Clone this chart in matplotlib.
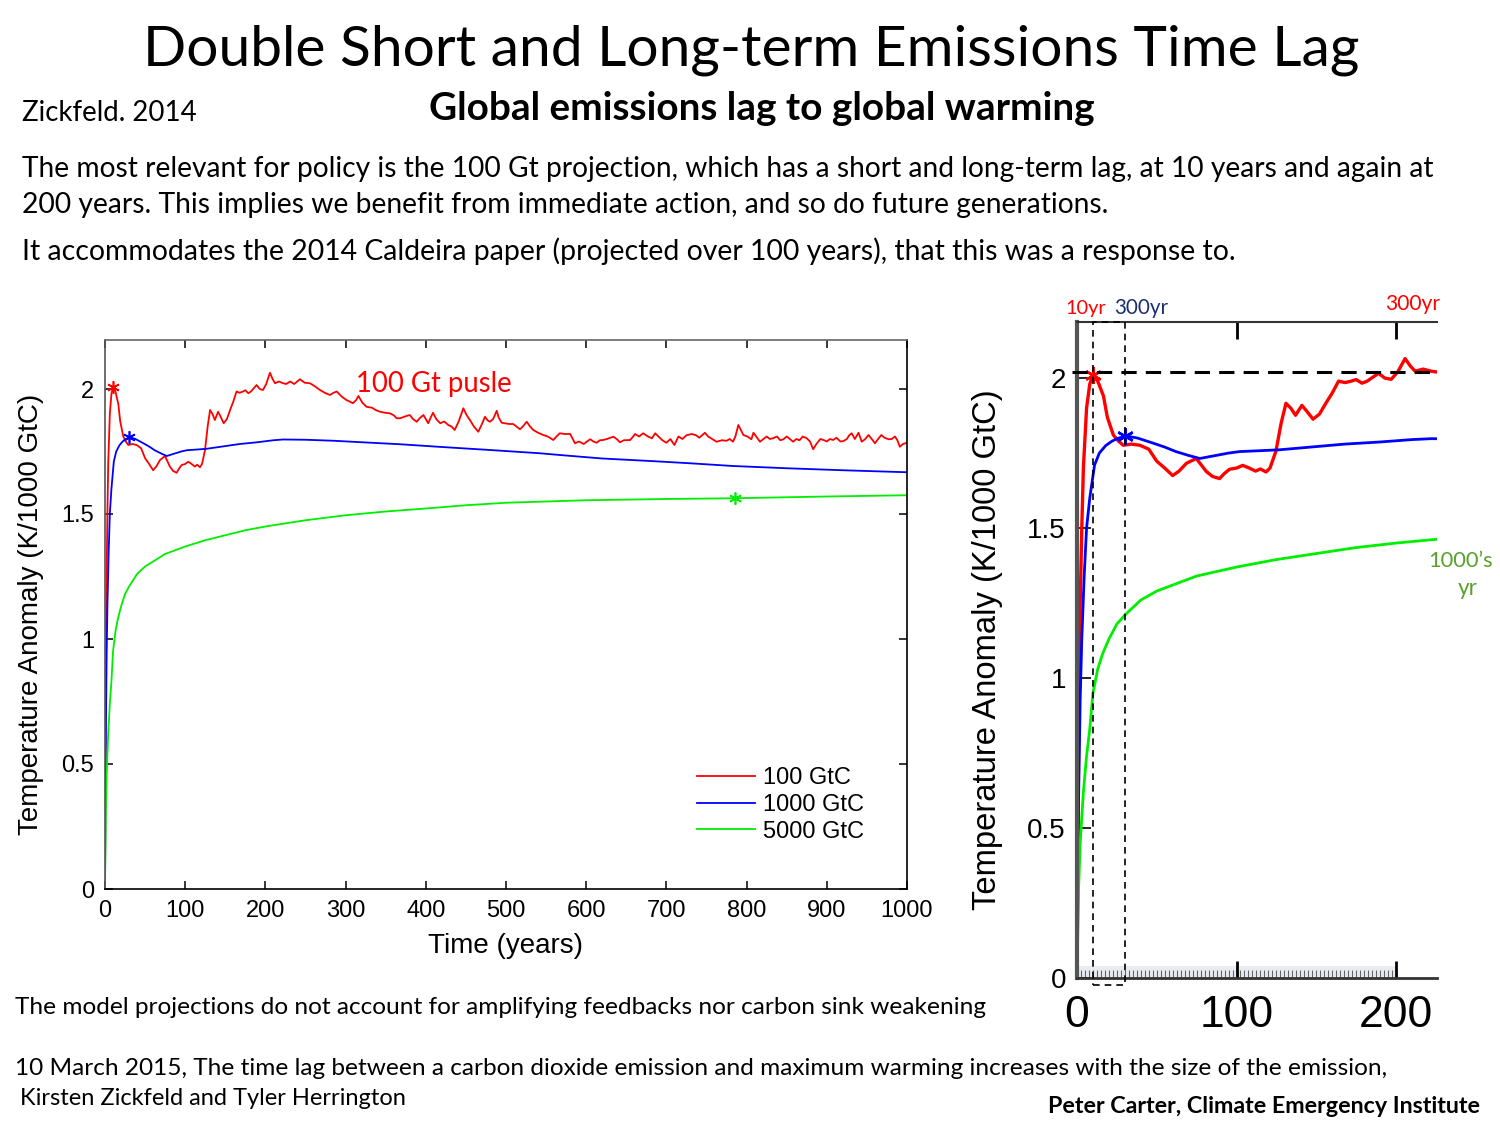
import numpy as np
import matplotlib
matplotlib.use('Agg')
import matplotlib.pyplot as plt
from matplotlib.patches import Rectangle
from matplotlib.ticker import FixedLocator

# Zickfeld & Herrington 2015 pulse responses
red_x = [0, 1, 2, 3, 4, 6, 8, 10, 13, 16.6, 19, 22.8, 26, 29, 34, 39.5, 45, 50, 55, 60,
         64, 68.6, 74.8, 78, 81, 85, 89.4, 92, 95.6, 100, 103.9, 108, 112, 115, 118.5, 121, 124.7,
         128, 131, 134, 137, 141, 144, 148, 152, 156, 160, 164, 168, 172, 175, 178.7, 182, 186,
         189, 193, 197, 201, 205.7, 209, 212, 217, 222, 226, 230.7, 236, 243, 249, 255.6, 262,
         268, 274, 280.5, 285, 289, 295, 301, 305, 309, 313, 316, 321, 326, 333, 338, 343, 349,
         355, 360, 363.7, 368, 374, 380, 384, 388.6, 393, 397, 400, 403, 406, 409, 413, 418, 423,
         428, 432, 436, 441, 446.8, 451, 455, 460, 465.5, 470, 473.8, 477, 480, 484, 488.4, 491,
         494.6, 500, 504, 509, 513, 517.5, 521, 525.8, 530, 534, 540, 546.5, 552, 559, 563, 567,
         573, 580, 586, 591, 597, 601, 605, 609, 613, 617, 621, 626, 630, 634, 638, 642, 647, 655,
         661, 666, 671, 677, 682, 686, 690, 695, 700, 705, 710, 715, 720, 725, 731.5, 737, 741,
         748, 752, 757, 762.6, 769, 775, 779, 783, 786, 789.7, 793, 796, 801, 806, 808.5, 812,
         816.7, 821, 825, 829, 833, 838, 842, 846, 850, 854, 858, 862, 866, 870, 875, 879, 883,
         887, 892, 896, 900, 904, 908, 912, 917, 921, 925, 928, 931, 935, 939.5, 943.6, 948, 952,
         956, 960, 964, 968, 972, 977, 981, 985, 988, 991, 995, 998, 1000]
red_y = [0, 0.8, 1.25, 1.5, 1.7, 1.9, 1.98, 2.01, 1.99, 1.94, 1.87, 1.81, 1.79, 1.776, 1.78,
         1.776, 1.763, 1.723, 1.70, 1.675, 1.69, 1.716, 1.732, 1.71, 1.689, 1.672, 1.665, 1.68,
         1.696, 1.70, 1.709, 1.70, 1.69, 1.697, 1.687, 1.70, 1.756,
         1.85, 1.916, 1.90, 1.876, 1.909, 1.89, 1.863, 1.88, 1.916, 1.95, 1.99, 1.985, 1.99, 1.995,
         1.983, 1.99, 2.005, 2.016, 2.00, 1.996, 2.02, 2.065, 2.04, 2.023, 2.03, 2.023, 2.02, 2.03,
         2.02, 2.039, 2.025, 2.023, 2.01, 1.996, 1.985, 1.976, 1.985, 1.99, 1.97, 1.956, 1.95,
         1.943, 1.955, 1.972, 1.945, 1.929, 1.925, 1.915, 1.909, 1.905, 1.903,
         1.895, 1.883, 1.883, 1.89, 1.896, 1.88, 1.869, 1.885, 1.896, 1.88, 1.863, 1.885, 1.905,
         1.88, 1.863, 1.87, 1.856, 1.85, 1.836, 1.87, 1.923, 1.895, 1.876, 1.85, 1.829, 1.86,
         1.889, 1.875, 1.869, 1.88, 1.913, 1.885, 1.865, 1.862, 1.86, 1.86, 1.85, 1.839, 1.85,
         1.869, 1.85, 1.836, 1.825, 1.816, 1.81, 1.796, 1.81, 1.823, 1.82, 1.82, 1.783, 1.79,
         1.78, 1.79, 1.799, 1.79, 1.785, 1.795, 1.796, 1.80, 1.805, 1.809, 1.80, 1.787, 1.795,
         1.796, 1.82, 1.81, 1.823, 1.81, 1.803, 1.823, 1.81, 1.795, 1.785, 1.80, 1.776, 1.81,
         1.80, 1.815, 1.82, 1.815, 1.805, 1.825, 1.81, 1.80, 1.789, 1.795, 1.793, 1.80, 1.789,
         1.81, 1.856, 1.835, 1.816, 1.81, 1.799, 1.825, 1.81, 1.789, 1.80, 1.81, 1.80, 1.803,
         1.81, 1.795, 1.799, 1.81, 1.80, 1.789, 1.80, 1.795, 1.81, 1.803, 1.79, 1.759, 1.78,
         1.80, 1.796, 1.79, 1.80, 1.796, 1.805, 1.79, 1.792, 1.80, 1.815, 1.823, 1.80, 1.825,
         1.789, 1.80, 1.816, 1.80, 1.783, 1.80, 1.816, 1.805, 1.799, 1.80, 1.81, 1.795, 1.769,
         1.78, 1.783, 1.785]

blue_x = [0, 0.5, 1, 2, 3, 4.5, 6, 8, 11, 14, 18, 22, 26, 31, 38, 47.8, 55, 62, 70, 77, 85, 95,
          102, 115, 127, 140, 155, 168, 190, 210, 222, 250, 285, 320, 368, 420, 480, 542, 567,
          620, 680, 729, 783, 850, 920, 1000]
blue_y = [0, 0.3, 0.6, 0.93, 1.13, 1.34, 1.5, 1.6, 1.71, 1.75, 1.775, 1.79, 1.80, 1.807, 1.80,
          1.783, 1.77, 1.755, 1.742, 1.732, 1.74, 1.75, 1.755, 1.758, 1.761, 1.767, 1.774, 1.78,
          1.787, 1.795, 1.798, 1.797, 1.793, 1.787, 1.779, 1.768, 1.756, 1.743, 1.736, 1.722,
          1.712, 1.703, 1.692, 1.683, 1.675, 1.667]

green_x = [0, 1, 2, 4, 6, 8, 10, 13, 16, 20, 25, 30, 40, 50, 60, 75, 100, 125, 150, 175, 200,
           250, 300, 350, 400, 450, 500, 600, 700, 785, 900, 1000]
green_y = [0, 0.3, 0.45, 0.62, 0.74, 0.83, 0.95, 1.03, 1.08, 1.13, 1.18, 1.21, 1.26, 1.29, 1.31,
           1.34, 1.37, 1.395, 1.415, 1.435, 1.45, 1.475, 1.495, 1.51, 1.522, 1.535, 1.545, 1.555,
           1.56, 1.563, 1.57, 1.575]

series_labels = ['100 GtC', '1000 GtC', '5000 GtC']
series_colors = ['#ff0000', '#0000ff', '#00ee00']

# starred maxima (year, anomaly)
peak_pts = [(10, 2.01), (30, 1.807), (785, 1.563)]

# short-term lag window and the 100 GtC peak level on the zoom panel
lag_window = (10, 30)
peak_level = 2.02

y_ticks = [0, 0.5, 1, 1.5, 2]
y_ticklabels = ['0', '0.5', '1', '1.5', '2']

plt.rcParams['font.family'] = 'Liberation Sans'

W, H = 1500, 1125
fig = plt.figure(figsize=(15, 11.25), dpi=100)
renderer = fig.canvas.get_renderer()


def slide_text(x, y, s, width, ha='left', **kw):
    # place text at pixel coords and scale it to the width it has on the slide
    t = fig.text(x / W, 1 - y / H, s, ha=ha, va='baseline', fontsize=20, family='Lato', **kw)
    w = t.get_window_extent(renderer).width
    t.set_fontsize(20 * width / w)
    return t


star = (6, 2, 0)
data = [(red_x, red_y), (blue_x, blue_y), (green_x, green_y)]

# left panel: full 1000 years
ax1 = fig.add_axes([105 / W, 1 - 889 / H, 802 / W, 549 / H])
for (xs, ys), c, lab in zip(data, series_colors, series_labels):
    ax1.plot(xs, ys, color=c, lw=1.3, label=lab)
for (px, py), c in zip(peak_pts, series_colors):
    ax1.plot(px, py, marker=star, color=c, ms=9, mew=1.2)
ax1.set_xlim(0, 1000)
ax1.set_ylim(0, 2.196)
ax1.set_xticks(range(0, 1001, 100))
ax1.set_yticks(y_ticks)
ax1.set_yticklabels(y_ticklabels)
ax1.tick_params(direction='in', top=True, right=True, length=6, width=1.1, labelsize=17, pad=8)
for sp in ax1.spines.values():
    sp.set_linewidth(1.2)
ax1.spines['left'].set_color('#555555')
ax1.spines['top'].set_color('#666666')
ax1.set_xlabel('Time (years)', fontsize=20)
ax1.xaxis.set_label_coords(0.5, -0.080)
ax1.set_ylabel('Temperature Anomaly (K/1000 GtC)', fontsize=20)
ax1.yaxis.set_label_coords(-0.076, 0.5)
ax1.legend(loc='upper left', bbox_to_anchor=(0.738, 0.222), frameon=False, fontsize=17,
           handlelength=2.46, handletextpad=0.34, labelspacing=0.2, borderpad=0, borderaxespad=0)

# right panel: zoom on the first ~225 years
ax2 = fig.add_axes([1077 / W, 1 - 978 / H, 360 / W, 656 / H])
widths = [2.4, 2.0, 2.0]
for (xs, ys), c, lw in zip(data, series_colors, widths):
    ax2.plot(xs, ys, color=c, lw=lw)
for (px, py), c in zip(peak_pts[:2], series_colors):
    ax2.plot(px, py, marker=star, color=c, ms=12, mew=1.8)
ax2.set_xlim(0, 225.7)
ax2.set_ylim(0, 2.187)
ax2.add_patch(Rectangle((0, 0), 200, 0.04, facecolor='#ebebf2', edgecolor='none', zorder=0.5))
ax2.add_patch(Rectangle((lag_window[0], -0.025), lag_window[1] - lag_window[0], 2.212,
                        fill=False, ec='k', lw=1.2, ls=(0, (4, 3)), clip_on=False, zorder=4))
ax2.axhline(peak_level, xmin=-0.013, xmax=1, color='k', lw=2.2, dashes=(5, 3), clip_on=False,
            zorder=4)
ax2.set_xticks([0, 100, 200])
ax2.xaxis.set_minor_locator(FixedLocator(np.arange(0, 200.1, 2.5)))
ax2.tick_params(axis='x', which='major', direction='in', length=12, width=2, labelsize=32,
                pad=12, top=True)
ax2.tick_params(axis='x', which='minor', direction='in', length=6, width=0.8, color='#666666',
                top=False)
ax2.set_yticks(y_ticks)
ax2.set_yticklabels(y_ticklabels)
ax2.tick_params(axis='y', direction='in', length=10, width=1.2, labelsize=20, pad=8)
ax2.spines['right'].set_visible(False)
ax2.spines['left'].set_linewidth(3)
ax2.spines['left'].set_color('#555555')
ax2.spines['top'].set_linewidth(1.5)
ax2.spines['top'].set_color('#333333')
ax2.spines['bottom'].set_linewidth(2)
ax2.spines['bottom'].set_color('#333333')
ax2.set_ylabel('Temperature Anomaly (K/1000 GtC)', fontsize=23.6)
ax2.yaxis.set_label_coords(-0.206, 0.5)

# slide text
slide_text(751, 66, 'Double Short and Long-term Emissions Time Lag', 1218, ha='center')
slide_text(22, 121, 'Zickfeld. 2014', 175)
slide_text(762, 120, 'Global emissions lag to global warming', 665, ha='center', weight='bold')
slide_text(22, 177, 'The most relevant for policy is the 100 Gt projection, which has a short and '
           'long-term lag, at 10 years and again at', 1412)
slide_text(22, 213, '200 years. This implies we benefit from immediate action, and so do future '
           'generations.', 1091)
slide_text(22, 260, 'It accommodates the 2014 Caldeira paper (projected over 100 years), that this '
           'was a response to.', 1214)
slide_text(356, 392, '100 Gt pusle', 156, color='#ff0000')
slide_text(1065, 314, '10yr', 41, color='#ff0000')
slide_text(1114, 314, '300yr', 54, color='#1a2f6e')
slide_text(1385, 310, '300yr', 55, color='#ff0000')
slide_text(1428, 567, '1000\u2019s', 65, color='#5aa02c')
slide_text(1458, 595, 'yr', 20, color='#5aa02c')
slide_text(15, 1014, 'The model projections do not account for amplifying feedbacks nor carbon '
           'sink weakening', 970)
slide_text(15, 1075, '10 March 2015, The time lag between a carbon dioxide emission and maximum '
           'warming increases with the size of the emission,', 1369)
slide_text(20, 1105, 'Kirsten Zickfeld and Tyler Herrington', 387)
slide_text(1048, 1113, 'Peter Carter, Climate Emergency Institute', 433, weight='bold')

fig.savefig('out.png', dpi=100)
